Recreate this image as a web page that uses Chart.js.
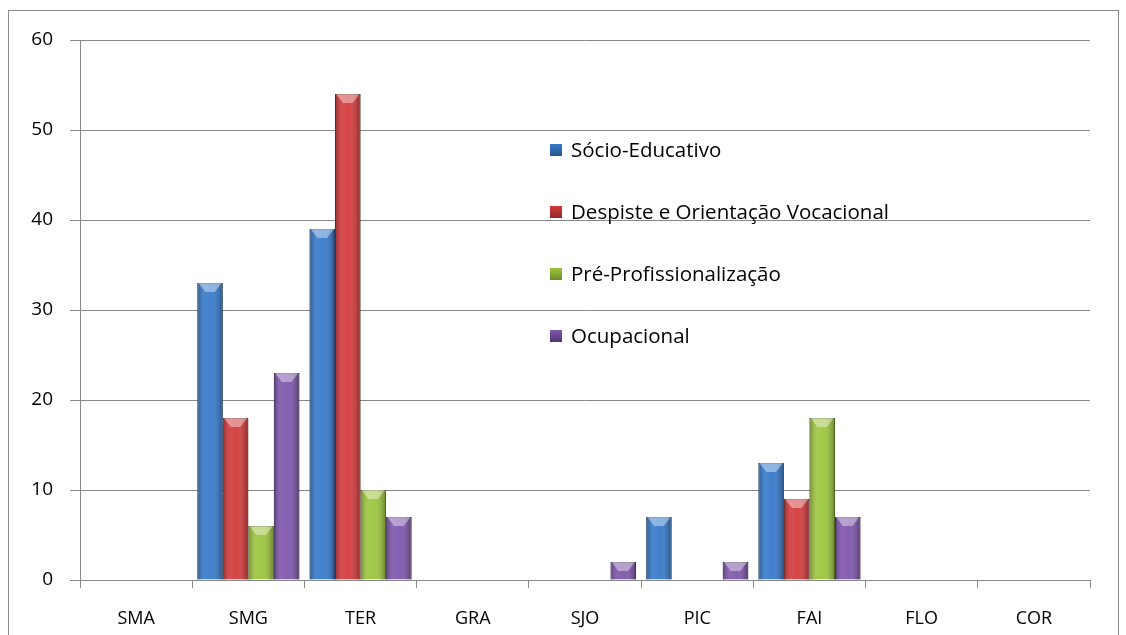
<!DOCTYPE html>
<html>
<head>
<meta charset="utf-8">
<script src="https://cdn.jsdelivr.net/npm/chart.js@4"></script>
<style>
  body { margin: 0; background: #fff; }
  #wrap { position: relative; width: 1126px; height: 635px; overflow: hidden; }
  #frame { position: absolute; left: 8px; top: 10px; width: 1109px; height: 640px; border: 1px solid #8c8c8c; }
  canvas { position: absolute; left: 0; top: 0; }
</style>
</head>
<body>
<div id="wrap">
  <div id="frame"></div>
  <canvas id="barchart__programas" width="1126" height="635"></canvas>
</div>
<script>
// categories and series
const places = ['SMA', 'SMG', 'TER', 'GRA', 'SJO', 'PIC', 'FAI', 'FLO', 'COR'];
const socioEducativo = [0, 33, 39, 0, 0, 7, 13, 0, 0];
const despiste = [0, 18, 54, 0, 0, 0, 9, 0, 0];
const preProf = [0, 6, 10, 0, 0, 0, 18, 0, 0];
const ocupacional = [0, 23, 7, 0, 2, 2, 7, 0, 0];
const yTicks = [0, 10, 20, 30, 40, 50, 60];

const seriesNames = ['Sócio-Educativo', 'Despiste e Orientação Vocacional', 'Pré-Profissionalização', 'Ocupacional'];
const fills = ['#3579cb', '#d3393a', '#9cc53c', '#7e55ab'];
const edges = ['#27578f', '#922826', '#6c8c28', '#523877'];

// fake excel 3d look: shading + bevel on top
const bevelPlugin = {
    id: 'bevel',
    afterDatasetsDraw(chart) {
        const c = chart.ctx;
        chart.data.datasets.forEach((ds, i) => {
            chart.getDatasetMeta(i).data.forEach(bar => {
                const h = bar.base - bar.y;
                if (h < 1) return;
                const l = bar.x - bar.width / 2, r = bar.x + bar.width / 2;
                let g = c.createLinearGradient(l, 0, r, 0);
                g.addColorStop(0, 'rgba(0,0,0,0.3)');
                g.addColorStop(0.3, 'rgba(255,255,255,0.1)');
                g.addColorStop(0.55, 'rgba(255,255,255,0.06)');
                g.addColorStop(1, 'rgba(0,0,0,0.35)');
                c.save();
                c.fillStyle = g;
                c.fillRect(l, bar.y, bar.width, h);
                let bh = Math.min(9, h);
                c.beginPath();
                c.moveTo(l + 1, bar.y);
                c.lineTo(r - 1, bar.y);
                c.lineTo(r - 8, bar.y + bh);
                c.lineTo(l + 8, bar.y + bh);
                c.closePath();
                c.fillStyle = 'rgba(255,255,255,0.4)';
                c.fill();
                c.restore();
            });
        });
    }
};

// legend drawn inside the plot like the original
const innerLegend = {
    id: 'innerLegend',
    afterDraw(chart) {
        const c = chart.ctx;
        const x0 = 550, y0 = 150, gap = 62;
        c.save();
        c.font = '20.5px "Open Sans"';
        c.textBaseline = 'middle';
        chart.data.datasets.forEach((ds, i) => {
            const y = y0 + i * gap;
            let g = c.createLinearGradient(x0, y - 6, x0, y + 6);
            g.addColorStop(0, ds.backgroundColor);
            g.addColorStop(1, ds.borderColor);
            c.fillStyle = g;
            c.fillRect(x0, y - 6, 12, 12);
            c.fillStyle = '#000';
            c.fillText(ds.label, x0 + 21, y + 1);
        });
        c.restore();
    }
};

const datasets = [socioEducativo, despiste, preProf, ocupacional].map((vals, i) => ({
    label: seriesNames[i],
    data: vals,
    backgroundColor: fills[i],
    borderColor: edges[i],
    borderWidth: ctx => ctx.raw > 0 ? 1 : 0,
    barPercentage: 1,
    categoryPercentage: 0.91
}));

let ctx__programas = document.getElementById('barchart__programas').getContext('2d');
new Chart(ctx__programas, {
    type: 'bar',
    data: {
        labels: places,
        datasets: datasets
    },
    options: {
        responsive: false,
        animation: false,
        layout: {
            padding: { left: 0, top: 40, right: 36, bottom: 0 }
        },
        plugins: {
            legend: { display: false },
            tooltip: { enabled: false }
        },
        scales: {
            x: {
                grid: {
                    drawOnChartArea: false,
                    color: '#888',
                    tickLength: 8
                },
                border: { color: '#888' },
                ticks: {
                    color: '#000',
                    font: { family: 'Open Sans', size: 18 },
                    padding: 20
                },
                afterFit: s => { s.height = 55; }
            },
            y: {
                min: 0,
                max: 60,
                afterBuildTicks: s => { s.ticks = yTicks.map(v => ({ value: v })); },
                grid: {
                    color: '#888',
                    tickLength: 10
                },
                border: { color: '#888' },
                ticks: {
                    color: '#000',
                    font: { family: 'Open Sans', size: 19 },
                    padding: 17
                },
                afterFit: s => { s.width = 80; }
            }
        }
    },
    plugins: [bevelPlugin, innerLegend]
});
</script>
</body>
</html>
